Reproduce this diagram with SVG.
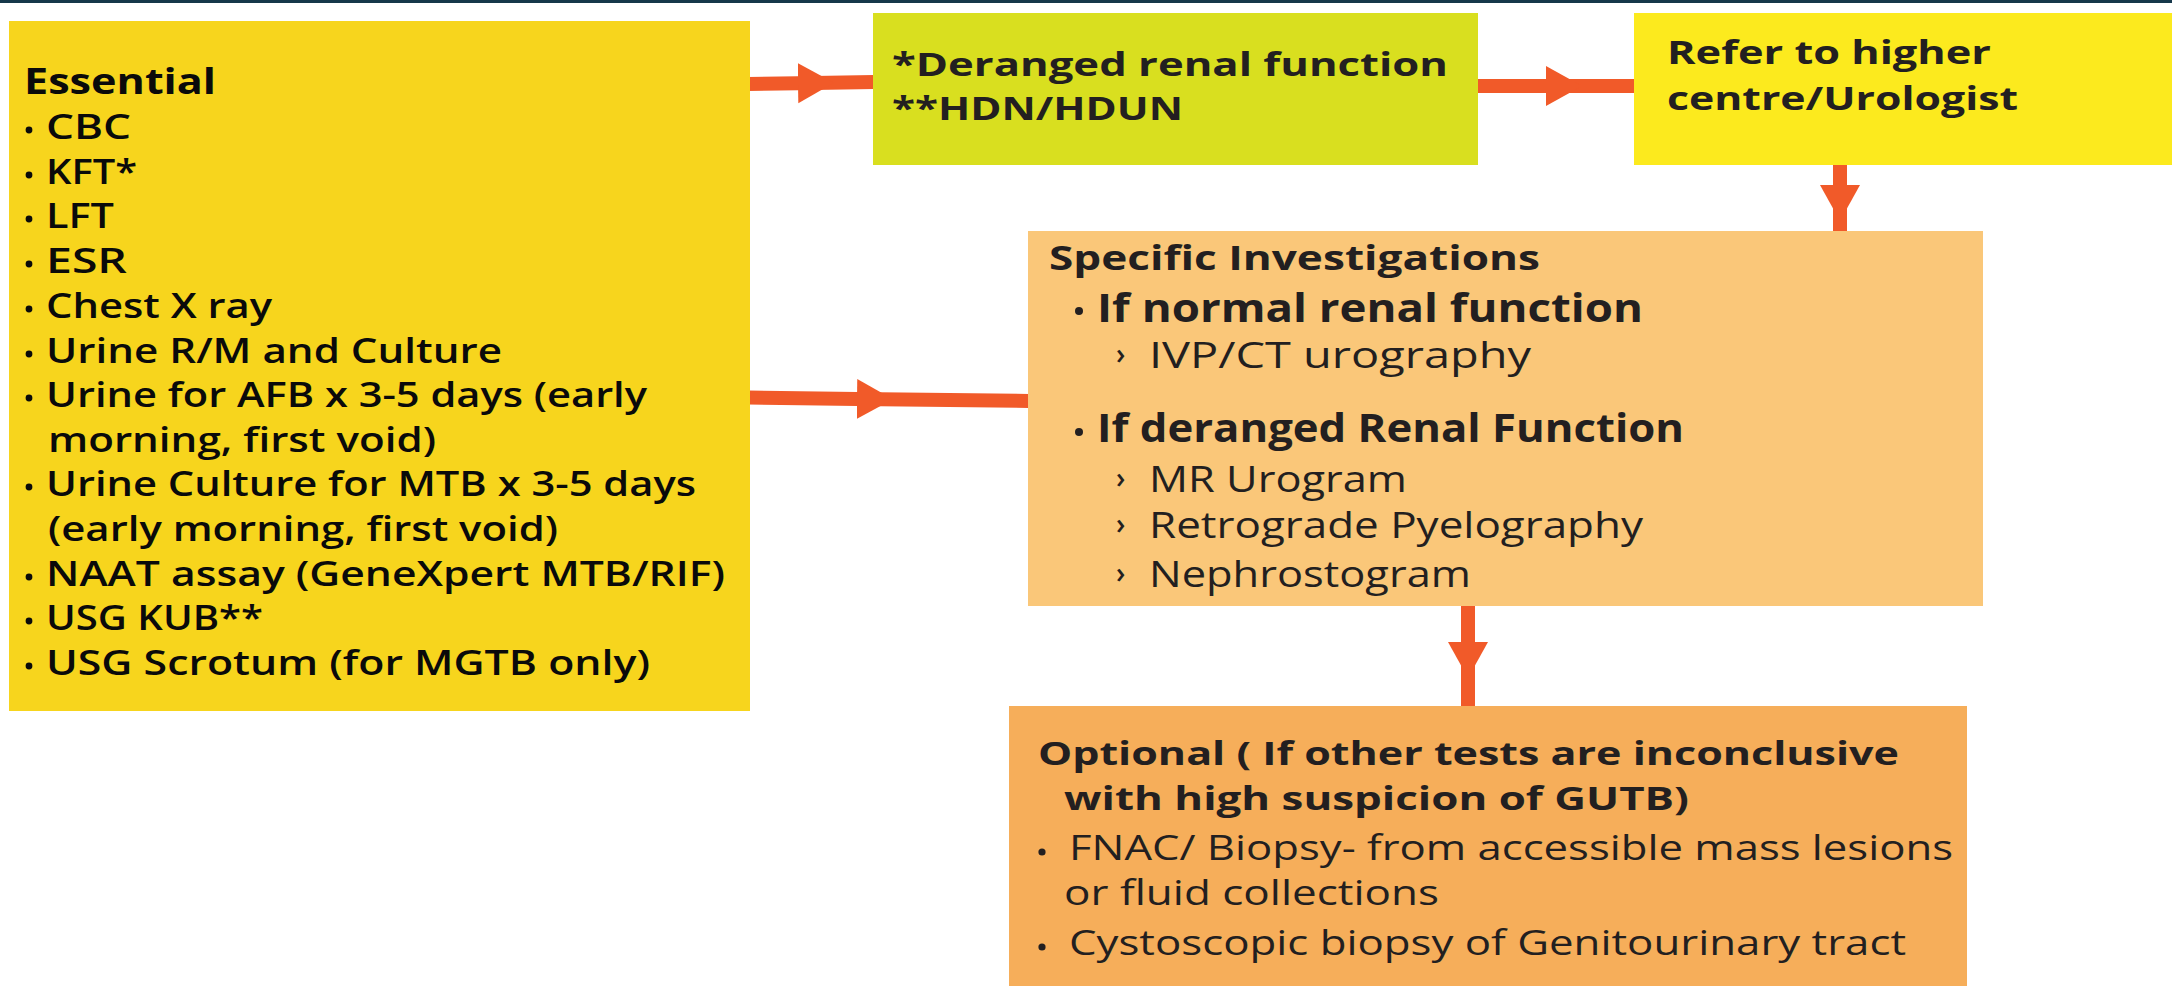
<svg xmlns="http://www.w3.org/2000/svg" width="2172" height="986" viewBox="0 0 2172 986">
<style>
  text { font-family: "Open Sans", "DejaVu Sans", sans-serif; fill: #231F20; }
  .l { font-size: 34px; font-weight: 600; fill: #0a0a0a; }
  .lh { font-size: 36px; font-weight: 700; fill: #0a0a0a; }
  .t { font-size: 32px; font-weight: 700; }
  .sh { font-size: 34px; font-weight: 700; }
  .sb { font-size: 39px; font-weight: 700; }
  .si { font-size: 37px; font-weight: 500; }
  .ch { font-size: 28px; font-weight: 600; }
  .oh { font-size: 33px; font-weight: 700; }
  .oi { font-size: 35px; font-weight: 500; }
  .conn { fill: none; stroke: #F15A29; stroke-width: 14; marker-mid: url(#head); }
</style>
<defs>
  <marker id="head" markerUnits="userSpaceOnUse" markerWidth="40" markerHeight="44" viewBox="0 -22 40 44" refX="0" refY="0" orient="auto">
    <path d="M0,-20 L36,0 L0,20 z" fill="#F15A29"/>
  </marker>
</defs>
<rect x="0" y="0" width="2172" height="986" fill="#ffffff"/>
<rect x="0" y="0" width="2172" height="3" fill="#16384A"/>

<g id="connectors">
  <path class="conn" d="M748,84 L798,83.2 L874,82"/>
  <path class="conn" d="M1477,86 L1546,86 L1635,86"/>
  <path class="conn" d="M1840,164 L1840,185 L1840,232"/>
  <path class="conn" d="M748,397.5 L857,398.9 L1029,401"/>
  <path class="conn" d="M1468,605 L1468,642 L1468,708"/>
</g>

<g id="essential">
  <rect x="9" y="21" width="741" height="690" fill="#F7D51D"/>
  <text class="lh" x="24" y="94" textLength="192" lengthAdjust="spacingAndGlyphs">Essential</text>
  <g fill="#0a0a0a">
    <circle cx="29" cy="130" r="3.4"/><circle cx="29" cy="175" r="3.4"/><circle cx="29" cy="219" r="3.4"/>
    <circle cx="29" cy="264" r="3.4"/><circle cx="29" cy="309" r="3.4"/><circle cx="29" cy="354" r="3.4"/>
    <circle cx="29" cy="398" r="3.4"/><circle cx="29" cy="487" r="3.4"/><circle cx="29" cy="577" r="3.4"/>
    <circle cx="29" cy="621" r="3.4"/><circle cx="29" cy="666" r="3.4"/>
  </g>
  <text class="l" x="46" y="139" textLength="85" lengthAdjust="spacingAndGlyphs">CBC</text>
  <text class="l" x="46" y="184" textLength="91" lengthAdjust="spacingAndGlyphs">KFT*</text>
  <text class="l" x="46" y="228" textLength="68" lengthAdjust="spacingAndGlyphs">LFT</text>
  <text class="l" x="46" y="273" textLength="81" lengthAdjust="spacingAndGlyphs">ESR</text>
  <text class="l" x="46" y="318" textLength="226" lengthAdjust="spacingAndGlyphs">Chest X ray</text>
  <text class="l" x="46" y="363" textLength="456" lengthAdjust="spacingAndGlyphs">Urine R/M and Culture</text>
  <text class="l" x="46" y="407" textLength="601" lengthAdjust="spacingAndGlyphs">Urine for AFB x 3-5 days (early</text>
  <text class="l" x="48" y="452" textLength="388" lengthAdjust="spacingAndGlyphs">morning, first void)</text>
  <text class="l" x="46" y="496" textLength="650" lengthAdjust="spacingAndGlyphs">Urine Culture for MTB x 3-5 days</text>
  <text class="l" x="48" y="541" textLength="510" lengthAdjust="spacingAndGlyphs">(early morning, first void)</text>
  <text class="l" x="46" y="586" textLength="679" lengthAdjust="spacingAndGlyphs">NAAT assay (GeneXpert MTB/RIF)</text>
  <text class="l" x="46" y="630" textLength="217" lengthAdjust="spacingAndGlyphs">USG KUB**</text>
  <text class="l" x="46" y="675" textLength="604" lengthAdjust="spacingAndGlyphs">USG Scrotum (for MGTB only)</text>
</g>

<g id="deranged">
  <rect x="873" y="13" width="605" height="152" fill="#D9DF1F"/>
  <text class="t" x="892" y="76" textLength="556" lengthAdjust="spacingAndGlyphs">*Deranged renal function</text>
  <text class="t" x="892" y="120" textLength="291" lengthAdjust="spacingAndGlyphs">**HDN/HDUN</text>
</g>

<g id="refer">
  <rect x="1634" y="13" width="538" height="152" fill="#FCEA1E"/>
  <text class="t" x="1667" y="64" textLength="324" lengthAdjust="spacingAndGlyphs">Refer to higher</text>
  <text class="t" x="1667" y="110" textLength="351" lengthAdjust="spacingAndGlyphs">centre/Urologist</text>
</g>

<g id="specific">
  <rect x="1028" y="231" width="955" height="375" fill="#FAC779"/>
  <text class="sh" x="1049" y="270" textLength="491" lengthAdjust="spacingAndGlyphs">Specific Investigations</text>
  <circle cx="1079" cy="311" r="4" fill="#231F20"/>
  <text class="sb" x="1097" y="322" textLength="546" lengthAdjust="spacingAndGlyphs">If normal renal function</text>
  <text class="ch" x="1116" y="364">›</text>
  <text class="si" x="1149" y="368" textLength="382" lengthAdjust="spacingAndGlyphs">IVP/CT urography</text>
  <circle cx="1079" cy="432" r="4" fill="#231F20"/>
  <text class="sb" x="1097" y="442" textLength="587" lengthAdjust="spacingAndGlyphs">If deranged Renal Function</text>
  <text class="ch" x="1116" y="488">›</text>
  <text class="si" x="1149" y="492" textLength="258" lengthAdjust="spacingAndGlyphs">MR Urogram</text>
  <text class="ch" x="1116" y="534">›</text>
  <text class="si" x="1149" y="538" textLength="494" lengthAdjust="spacingAndGlyphs">Retrograde Pyelography</text>
  <text class="ch" x="1116" y="583">›</text>
  <text class="si" x="1149" y="587" textLength="322" lengthAdjust="spacingAndGlyphs">Nephrostogram</text>
</g>

<g id="optional">
  <rect x="1009" y="706" width="958" height="280" fill="#F6AE5A"/>
  <text class="oh" x="1038" y="765" textLength="861" lengthAdjust="spacingAndGlyphs">Optional ( If other tests are inconclusive</text>
  <text class="oh" x="1064" y="810" textLength="625" lengthAdjust="spacingAndGlyphs">with high suspicion of GUTB)</text>
  <circle cx="1042" cy="852" r="3.6" fill="#231F20"/>
  <text class="oi" x="1069" y="860" textLength="884" lengthAdjust="spacingAndGlyphs">FNAC/ Biopsy- from accessible mass lesions</text>
  <text class="oi" x="1064" y="905" textLength="375" lengthAdjust="spacingAndGlyphs">or fluid collections</text>
  <circle cx="1042" cy="947" r="3.6" fill="#231F20"/>
  <text class="oi" x="1069" y="955" textLength="837" lengthAdjust="spacingAndGlyphs">Cystoscopic biopsy of Genitourinary tract</text>
</g>
</svg>
